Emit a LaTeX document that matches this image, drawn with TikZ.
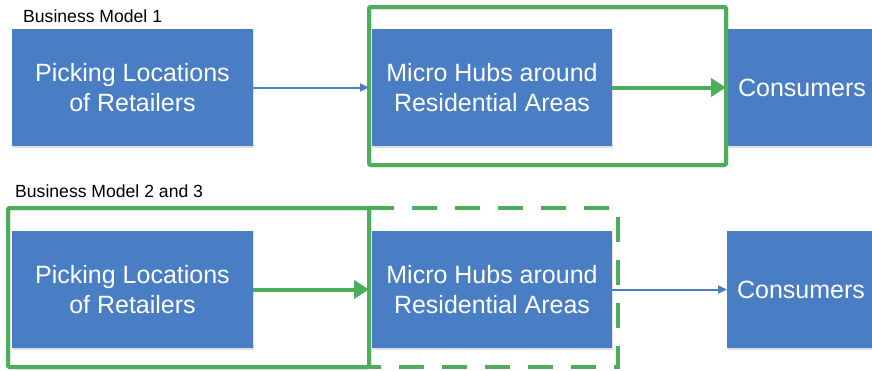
\documentclass[tikz,border=0pt]{standalone}
\usepackage{fontspec}
\setmainfont{Liberation Sans}
\usetikzlibrary{arrows.meta,shadows}
\definecolor{boxblue}{RGB}{74,126,196}
\definecolor{frgreen}{RGB}{78,173,91}
\tikzset{
  bluebox/.style={fill=boxblue, text=white, inner sep=0pt, outer sep=0pt,
    align=center, font=\fontsize{25}{30}\selectfont,
    drop shadow={opacity=0.25, shadow xshift=1pt, shadow yshift=-1.5pt}},
  greenframe/.style={draw=frgreen, line width=4pt, rounded corners=2pt, inner sep=0pt, outer sep=0pt},
  dashframe/.style={draw=frgreen, line width=4pt, dash pattern=on 25pt off 18pt},
  thinarrow/.style={draw=boxblue, line width=2pt, -{Triangle[length=9pt,width=8pt]}},
  greenarrow/.style={draw=frgreen, line width=4pt, -{Triangle[length=15pt,width=18pt]}},
  title/.style={anchor=base west, inner sep=0pt, font=\fontsize{17.6}{20}\selectfont}
}
\begin{document}
\begin{tikzpicture}[x=1pt,y=-1pt]
\clip (0,0) rectangle (872,370);
\useasboundingbox (0,0) rectangle (872,370);
% titles
\node[title] (t1) at (23,22) {Business Model 1};
\node[title] (t2) at (15,197) {Business Model 2 and 3};
% frames
\node[greenframe, minimum width=357pt, minimum height=158pt] (g1) at (547.5,86) {};
\node[greenframe, minimum width=361pt, minimum height=159pt] (g2) at (188.5,287.5) {};
\coordinate (d1) at (369,208);
\coordinate (d2) at (618,208);
\coordinate (d3) at (618,367);
\coordinate (d4) at (369,367);
% top row
\node[bluebox, minimum width=241pt, minimum height=117pt] (p1) at (132.5,87.5) {Picking Locations\\of Retailers};
\node[bluebox, minimum width=240pt, minimum height=117pt] (m1) at (492,87.5) {Micro Hubs around\\Residential Areas};
\node[bluebox, minimum width=148pt, minimum height=117pt] (c1) at (802,87.5) {Consumers};
% bottom row
\node[bluebox, minimum width=241pt, minimum height=117pt] (p2) at (132.5,289.5) {Picking Locations\\of Retailers};
\node[bluebox, minimum width=240pt, minimum height=117pt] (m2) at (492,289.5) {Micro Hubs around\\Residential Areas};
\node[bluebox, minimum width=148pt, minimum height=117pt] (c2) at (801,289.5) {Consumers};
% dashed frame (drawn over)
\draw[dashframe] (d1) -- (d2) -- (d3) -- (d4);
% redraw solid frames above boxes
\node[greenframe, minimum width=357pt, minimum height=158pt] at (g1) {};
\node[greenframe, minimum width=361pt, minimum height=159pt] at (g2) {};
% connectors
\draw[thinarrow] (p1.east) -- (p1.east -| g1.west);
\draw[greenarrow] (m1.east) -- (m1.east -| g1.east);
\draw[greenarrow] (p2.east) -- (p2.east -| g2.east);
\draw[thinarrow] (m2.east) -- (c2.west);
\end{tikzpicture}
\end{document}
